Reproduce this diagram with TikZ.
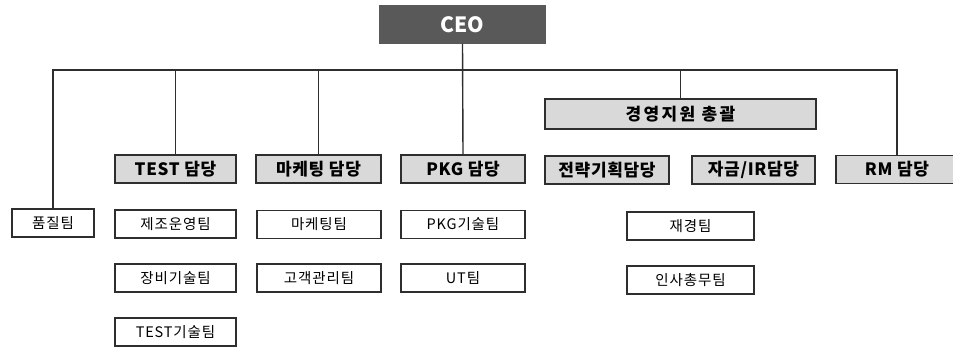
\documentclass[tikz,border=0pt]{standalone}
\usepackage{fontspec}
\setmainfont{Noto Sans CJK KR}
\definecolor{ceofill}{HTML}{595959}
\definecolor{gfill}{HTML}{D9D9D9}
\definecolor{lncol}{HTML}{2E2E2E}
\tikzset{
  box/.style={draw=lncol, line width=1.4pt, inner sep=0pt, minimum height=28pt, align=center},
  ceobox/.style={box, fill=ceofill, draw=ceofill, text=white, minimum width=165pt, minimum height=37pt, font=\bfseries\fontsize{21}{24}\selectfont},
  gbox/.style={box, fill=gfill, font=\bfseries\fontsize{17}{20}\selectfont\addfontfeature{LetterSpace=4}},
  wbox/.style={box, fill=white, font=\fontsize{14.5}{17}\selectfont\addfontfeature{LetterSpace=6}},
  conn/.style={draw=lncol, line width=1.4pt}
}
\begin{document}
\begin{tikzpicture}[x=1pt,y=-1pt]
\useasboundingbox (0,0) rectangle (953,346);
\clip (0,0) rectangle (953,346);
\fill[white] (0,0) rectangle (953,346);
\node[ceobox] (ceo) at (462.5,24.5) {CEO};
% level 2
\node[gbox, minimum width=121pt] (test) at (175.5,169) {TEST 담당};
\node[gbox, minimum width=125pt] (mkt) at (318.5,169) {마케팅 담당};
\node[gbox, minimum width=124pt] (pkg) at (463,169) {PKG 담당};
\node[gbox, minimum width=124pt] (strat) at (607,170) {전략기획담당};
\node[gbox, minimum width=123pt] (fund) at (753.5,170) {자금/IR담당};
\node[gbox, minimum width=122pt] (rm) at (897,169.5) {RM 담당};
\node[gbox, minimum width=271pt, minimum height=30pt, font=\bfseries\fontsize{17}{20}\selectfont\addfontfeature{LetterSpace=14}] (mgmt) at (680.5,114) {경영지원 총괄};
% level 3
\node[wbox, minimum width=82pt] (q) at (53,223) {품질팀};
\node[wbox, minimum width=121pt] (mfg) at (175.5,224) {제조운영팀};
\node[wbox, minimum width=121pt] (equip) at (175.5,278) {장비기술팀};
\node[wbox, minimum width=121pt] (tt) at (175.5,332) {TEST기술팀};
\node[wbox, minimum width=124pt] (mteam) at (319,224.5) {마케팅팀};
\node[wbox, minimum width=124pt] (cust) at (319,278) {고객관리팀};
\node[wbox, minimum width=124pt] (pkgt) at (463,224.5) {PKG기술팀};
\node[wbox, minimum width=124pt] (ut) at (463,278) {UT팀};
\node[wbox, minimum width=127pt] (fin) at (690.5,226) {재경팀};
\node[wbox, minimum width=127pt] (hr) at (690.5,280) {인사총무팀};
% connectors
\coordinate (busR) at (897,70);
\draw[conn] (ceo.south) -- (pkg.north);
\draw[conn] (q.north) |- (busR) -- (rm.north);
\draw[conn] (test.north) -- (test.north |- busR);
\draw[conn] (mkt.north) -- (mkt.north |- busR);
\draw[conn] (mgmt.north) -- (mgmt.north |- busR);
\end{tikzpicture}
\end{document}
